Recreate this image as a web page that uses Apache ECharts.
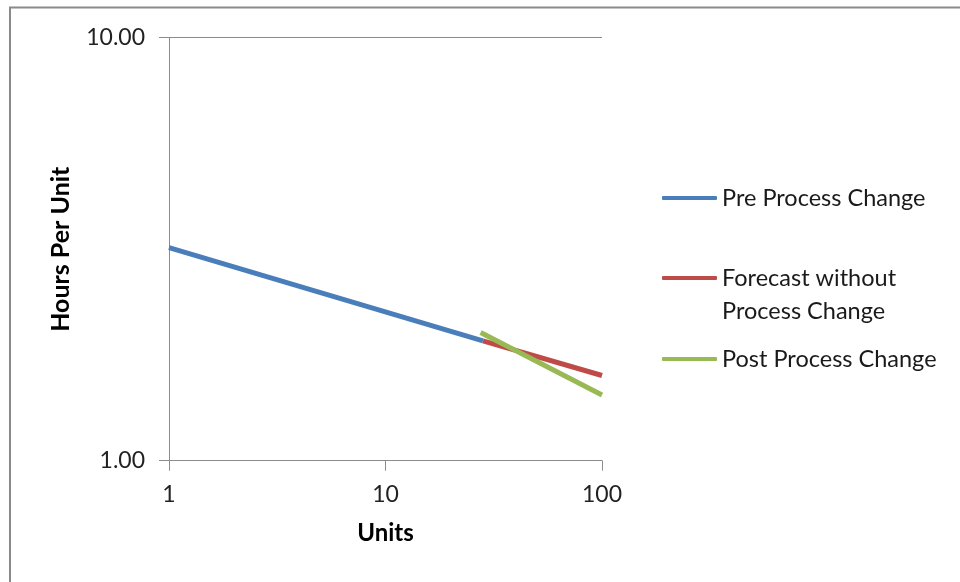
<!DOCTYPE html>
<html>
<head>
<meta charset="utf-8">
<style>
  html, body { margin: 0; padding: 0; background: #fff; }
  #chart { width: 960px; height: 582px; }
</style>
<script src="https://cdn.jsdelivr.net/npm/echarts@6/dist/echarts.min.js"></script>
</head>
<body>
<div id="chart"></div>
<script>
// Learning-curve data on log–log axes: [units, hours per unit]
const preProcessChange = [[1, 3.19], [28.2, 1.92]];
const forecastWithoutChange = [[28.2, 1.92], [100, 1.59]];
const postProcessChange = [[27.5, 2.01], [100, 1.43]];

const seriesNames = ['Pre Process Change', 'Forecast without\nProcess Change', 'Post Process Change'];
const seriesColors = ['#4A7EBB', '#BE4B48', '#98B954'];

const FONT = 'Lato';
const AXIS_GREY = '#8C8C8C';

const chart = echarts.init(document.getElementById('chart'), null, { renderer: 'canvas' });

const legendText = { fontFamily: FONT, fontSize: 23.5, color: '#1a1a1a', lineHeight: 33 };

function legendFor(i, top, formatter) {
  const legend = {
    data: [seriesNames[i]],
    orient: 'vertical',
    left: 662,
    top: top,
    padding: 0,
    itemWidth: 55,
    itemHeight: 4,
    itemGap: 0,
    icon: 'roundRect',
    selectedMode: false,
    textStyle: legendText
  };
  if (formatter) legend.formatter = formatter;
  return legend;
}

chart.setOption({
  animation: false,
  backgroundColor: '#fff',
  grid: { left: 169, top: 37.7, right: 358, bottom: 121.3, containLabel: false },
  graphic: [{
    type: 'rect',
    shape: { x: 10, y: 7.5, width: 2000, height: 2000 },
    style: { fill: 'none', stroke: '#8A8A8A', lineWidth: 2 },
    silent: true
  }],
  legend: [
    legendFor(0, 181.5),
    // blank first line keeps the swatch level with "Forecast without"
    legendFor(1, 228.5, name => '\n' + name),
    legendFor(2, 342.5)
  ],
  xAxis: {
    type: 'log',
    logBase: 10,
    min: 1,
    max: 100,
    name: 'Units',
    nameLocation: 'middle',
    nameGap: 61,
    nameTextStyle: { fontFamily: FONT, fontSize: 24, fontWeight: 'bold', color: '#000' },
    axisLine: { lineStyle: { color: AXIS_GREY, width: 1 } },
    axisTick: { show: true, inside: false, length: 10, lineStyle: { color: AXIS_GREY } },
    axisLabel: { fontFamily: FONT, fontSize: 23, color: '#222', margin: 22 },
    splitLine: { show: false },
    minorTick: { show: false }
  },
  yAxis: {
    type: 'log',
    logBase: 10,
    min: 1,
    max: 10,
    name: 'Hours Per Unit',
    nameLocation: 'middle',
    nameGap: 96,
    nameRotate: 90,
    nameTextStyle: { fontFamily: FONT, fontSize: 25, fontWeight: 'bold', color: '#000' },
    axisLine: { show: true, lineStyle: { color: AXIS_GREY, width: 1 } },
    axisTick: { show: true, inside: false, length: 10, lineStyle: { color: AXIS_GREY } },
    axisLabel: { fontFamily: FONT, fontSize: 23, color: '#222', margin: 24, formatter: v => v.toFixed(2) },
    splitLine: { show: true, lineStyle: { color: AXIS_GREY, width: 1 } }
  },
  series: [
    { name: seriesNames[0], type: 'line', data: preProcessChange },
    { name: seriesNames[1], type: 'line', data: forecastWithoutChange },
    { name: seriesNames[2], type: 'line', data: postProcessChange }
  ].map((s, i) => Object.assign(s, {
    showSymbol: false,
    symbol: 'none',
    color: seriesColors[i],
    lineStyle: { width: 5, color: seriesColors[i], cap: 'butt' },
    emphasis: { disabled: true }
  }))
});
</script>
</body>
</html>
